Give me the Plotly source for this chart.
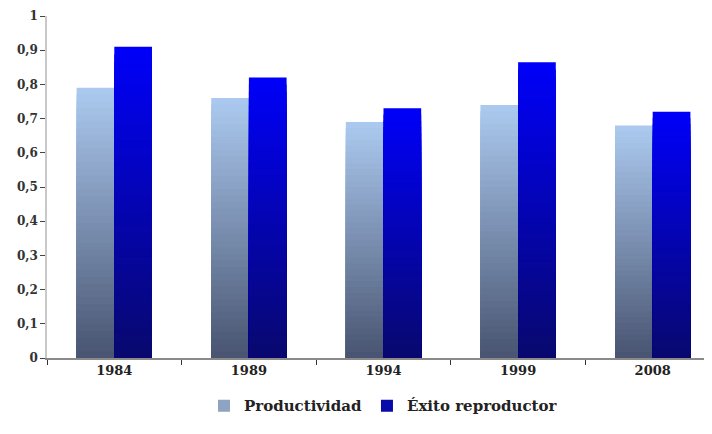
import plotly.graph_objects as go

years = ["1984", "1989", "1994", "1999", "2008"]
productividad = [0.79, 0.76, 0.69, 0.74, 0.68]
exito = [0.91, 0.82, 0.73, 0.865, 0.72]
y_ticks = [0, 0.1, 0.2, 0.3, 0.4, 0.5, 0.6, 0.7, 0.8, 0.9, 1]

series = [
    ("Productividad", productividad, (72, 84, 112), (172, 202, 240), "#8fa3c2"),
    ("Éxito reproductor", exito, (8, 8, 110), (0, 0, 250), "#0a0aa8"),
]

N = 40
fig = go.Figure()


def lerp(a, b, t):
    return "rgb(%d,%d,%d)" % tuple(round(a[i] + (b[i] - a[i]) * t) for i in range(3))


for name, vals, bottom, top, legcol in series:
    # overlapping bars from the base: tallest (lightest) first, shorter darker ones drawn over it
    for k in range(N):
        frac = (N - k) / N
        t = (N - k - 0.5) / N
        fig.add_trace(go.Bar(
            x=years,
            y=[v * frac for v in vals],
            offsetgroup=name,
            marker=dict(color=lerp(bottom, top, t), line=dict(width=0)),
            showlegend=False,
            legendgroup=name,
            hoverinfo="skip",
        ))
    # legend entry
    fig.add_trace(go.Bar(
        x=years, y=[0] * len(years),
        offsetgroup=name, name=name, legendgroup=name,
        marker=dict(color=legcol, line=dict(width=0)),
        showlegend=True, hoverinfo="skip",
    ))

fig.update_layout(
    width=712, height=434,
    margin=dict(l=39, r=0, t=8, b=84),
    paper_bgcolor="white", plot_bgcolor="white",
    barmode="group", bargap=0.44, bargroupgap=0,
    separators=", ",
    font=dict(family="DejaVu Serif", size=12, color="#222222"),
    showlegend=True,
    legend=dict(
        orientation="h", x=0.5, xanchor="center", y=-0.14, yanchor="middle",
        font=dict(family="DejaVu Serif", size=15, color="#222222", weight="bold"),
        itemwidth=30, tracegroupgap=0,
    ),
)

fig.update_xaxes(
    type="category", range=[-0.5, 4.5],
    showline=True, linecolor="#8a8a8a", linewidth=1.5,
    ticks="outside", tickson="boundaries", ticklen=5, tickcolor="#333333",
    tickfont=dict(family="DejaVu Serif", size=13, color="#222222", weight="bold"),
    showgrid=False, zeroline=False,
)
fig.update_yaxes(
    range=[0, 1], tickvals=y_ticks,
    showline=True, linecolor="#c8c8c8", linewidth=1.5,
    ticks="outside", ticklen=5, tickcolor="#444444",
    tickfont=dict(family="DejaVu Serif", size=12, color="#333333", weight="bold"),
    showgrid=False, zeroline=False,
)

fig.write_html("out.html")
